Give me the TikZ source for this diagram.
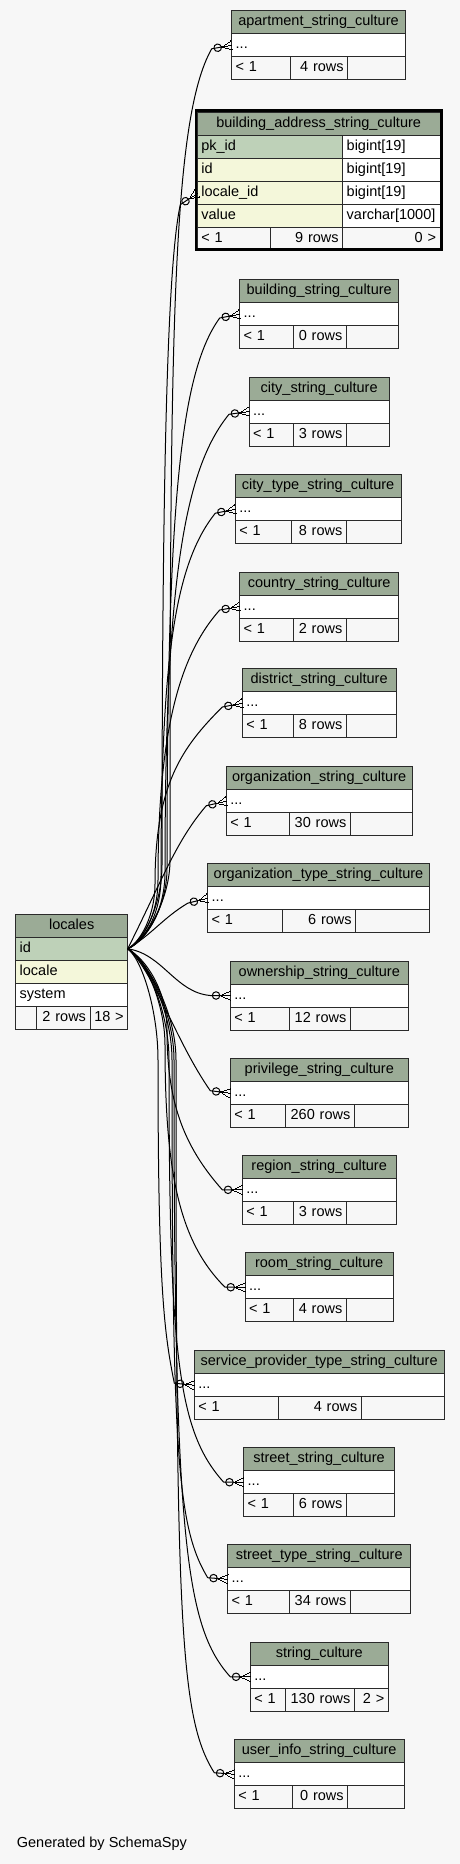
\documentclass[tikz,border=0pt]{standalone}
\usepackage{fontspec}
\setmainfont{Liberation Sans}
\usetikzlibrary{arrows.meta,calc}

\definecolor{sheet}{RGB}{247,247,247}
\definecolor{tblhead}{RGB}{155,171,150}
\definecolor{tblpk}{RGB}{190,209,184}
\definecolor{tblidx}{RGB}{244,247,218}
\definecolor{tblfoot}{RGB}{247,247,247}
\definecolor{tblline}{RGB}{42,42,42}

% crow's foot (many) end
\pgfdeclarearrow{
  name = Crow,
  parameters = {\the\pgfarrowlength,\the\pgfarrowwidth,\the\pgfarrowlinewidth},
  setup code = {
    \pgfarrowssettipend{0pt}
    \pgfarrowssetbackend{-\pgfarrowlength}
    \pgfarrowssetvisualbackend{-\pgfarrowlength}
    \pgfarrowssetlineend{-\pgfarrowlength}
    \pgfarrowsupperhullpoint{0pt}{.5\pgfarrowwidth}
    \pgfarrowsupperhullpoint{-\pgfarrowlength}{0pt}
    \pgfarrowssavethe\pgfarrowlength
    \pgfarrowssavethe\pgfarrowwidth
    \pgfarrowssavethe\pgfarrowlinewidth
  },
  drawing code = {
    \pgfsetlinewidth{\pgfarrowlinewidth}
    \pgfsetdash{}{0pt}
    \pgfpathmoveto{\pgfqpoint{0pt}{.5\pgfarrowwidth}}
    \pgfpathlineto{\pgfqpoint{-\pgfarrowlength}{0pt}}
    \pgfpathlineto{\pgfqpoint{0pt}{-.5\pgfarrowwidth}}
    \pgfpathmoveto{\pgfqpoint{-\pgfarrowlength}{0pt}}
    \pgfpathlineto{\pgfqpoint{0pt}{0pt}}
    \pgfusepathqstroke
  },
  defaults = {length=10pt, width=9pt}
}

\newcommand{\tblfont}{\fontsize{14.5pt}{17pt}\selectfont}

\tikzset{
  tbl/.style={draw=tblline, line width=1pt, inner ysep=0pt, inner xsep=4pt,
    outer sep=0pt, minimum height=23pt, text height=10.5pt, text depth=3pt,
    font=\tblfont, anchor=north west},
  tblhead/.style={tbl, fill=tblhead, align=center},
  tblrow/.style={tbl, fill=white, align=left},
  tblpk/.style={tbl, fill=tblpk, align=left},
  tblidx/.style={tbl, fill=tblidx, align=left},
  tblfoot/.style={tbl, fill=tblfoot, align=left},
  tblcount/.style={tbl, fill=tblfoot, align=right},
  rel/.style={line width=1pt, black,
    -{Circle[open, length=8.5pt, width=8.5pt] Crow[length=10pt, width=9pt]}},
}

% collapsed table: #1 name, #2 left, #3 right, #4 top, #5 title,
% #6 and #7 footer dividers, #8 rows, #9 last cell
\newcommand{\culturetable}[9]{%
  \pgfmathsetmacro\cwA{#3-#2-8}%
  \pgfmathsetmacro\cwB{#6-#2-8}%
  \pgfmathsetmacro\cwC{#7-#6-8}%
  \pgfmathsetmacro\cwD{#3-#7-8}%
  \node[tblhead, text width=\cwA pt] (#1) at (#2,#4) {#5};
  \node[tblrow, text width=\cwA pt] (#1-r) at (#1.south west) {...};
  \node[tblfoot, text width=\cwB pt] (#1-f1) at (#1-r.south west) {< 1};
  \node[tblcount, text width=\cwC pt] (#1-f2) at (#1-f1.north east) {#8};
  \node[tblcount, text width=\cwD pt] (#1-f3) at (#1-f2.north east) {#9};
}

\begin{document}
\begin{tikzpicture}[x=1pt, y=-1pt]
  % sheet
  \fill[sheet] (0,0) rectangle (460,1864);

  % locales
  \node[tblhead, text width=104pt] (loc) at (15.7,914.3) {locales};
  \node[tblpk, text width=104pt] (loc-id) at (loc.south west) {id};
  \node[tblidx, text width=104pt] (loc-locale) at (loc-id.south west) {locale};
  \node[tblrow, text width=104pt] (loc-sys) at (loc-locale.south west) {system};
  \node[tblfoot, text width=13pt] (loc-f1) at (loc-sys.south west) {};
  \node[tblcount, text width=45.3pt] (loc-f2) at (loc-f1.north east) {2 rows};
  \node[tblcount, text width=29.7pt] (loc-f3) at (loc-f2.north east) {18 >};

  % building_address_string_culture (focused table)
  \node[tblhead, text width=234.7pt] (ba) at (197.3,112.7) {building\_address\_string\_culture};
  \node[tblpk, text width=137.4pt] (ba-pk) at (ba.south west) {pk\_id};
  \node[tblrow, text width=89.3pt] (ba-pkt) at (ba-pk.north east) {bigint[19]};
  \node[tblidx, text width=137.4pt] (ba-id) at (ba-pk.south west) {id};
  \node[tblrow, text width=89.3pt] (ba-idt) at (ba-id.north east) {bigint[19]};
  \node[tblidx, text width=137.4pt] (ba-loc) at (ba-id.south west) {locale\_id};
  \node[tblrow, text width=89.3pt] (ba-loct) at (ba-loc.north east) {bigint[19]};
  \node[tblidx, text width=137.4pt] (ba-val) at (ba-loc.south west) {value};
  \node[tblrow, text width=89.3pt] (ba-valt) at (ba-val.north east) {varchar[1000]};
  \node[tblfoot, text width=65pt] (ba-f1) at (ba-val.south west) {< 1};
  \node[tblcount, text width=64.4pt] (ba-f2) at (ba-f1.north east) {9 rows};
  \node[tblcount, text width=89.3pt] (ba-f3) at (ba-f2.north east) {0 >};
  \draw[black, line width=2.6pt] (196,110.2) rectangle (441.4,249.7);

  % the other culture tables
  \culturetable{apt}{231.7}{405.3}{10.7}{apartment\_string\_culture}{290.7}{347.7}{4 rows}{}
  \culturetable{bld}{239.7}{398.7}{279.7}{building\_string\_culture}{293.3}{346.3}{0 rows}{}
  \culturetable{city}{249}{389.3}{377}{city\_string\_culture}{293}{346.3}{3 rows}{}
  \culturetable{ctype}{235.3}{401}{474.7}{city\_type\_string\_culture}{291.7}{346.3}{8 rows}{}
  \culturetable{country}{239.7}{398.7}{572}{country\_string\_culture}{293.3}{346.3}{2 rows}{}
  \culturetable{district}{242.3}{396}{668.7}{district\_string\_culture}{293}{346.3}{8 rows}{}
  \culturetable{org}{226.3}{412}{766.7}{organization\_string\_culture}{289}{350.3}{30 rows}{}
  \culturetable{orgtype}{207.7}{429.3}{863.7}{organization\_type\_string\_culture}{282.7}{355.7}{6 rows}{}
  \culturetable{own}{230.3}{408.3}{961}{ownership\_string\_culture}{289}{350.3}{12 rows}{}
  \culturetable{priv}{230.3}{408.3}{1058.7}{privilege\_string\_culture}{285}{354.3}{260 rows}{}
  \culturetable{region}{242.3}{396}{1155.3}{region\_string\_culture}{293}{346.3}{3 rows}{}
  \culturetable{room}{245}{393.3}{1252.7}{room\_string\_culture}{293.3}{346.3}{4 rows}{}
  \culturetable{sprov}{194.3}{444}{1350.7}{service\_provider\_type\_string\_culture}{278.7}{361.3}{4 rows}{}
  \culturetable{street}{243.7}{394.3}{1447.7}{street\_string\_culture}{293.3}{346.3}{6 rows}{}
  \culturetable{sttype}{227.7}{410.7}{1544.7}{street\_type\_string\_culture}{289}{350.3}{34 rows}{}
  \culturetable{sculture}{250.3}{388.3}{1642.3}{string\_culture}{285}{354.3}{130 rows}{2 >}
  \culturetable{uinfo}{234.3}{404}{1739.7}{user\_info\_string\_culture}{292}{347.7}{0 rows}{}

  % links going up
  \draw[rel] (loc-id.east) .. controls +(18,-8) and +(0,40) .. (170,860)
    .. controls +(0,-520) and +(-40,70) .. ($(apt-r.west)+(-20,3.6)$) -- (apt-r.west);
  \draw[rel] (loc-id.east) .. controls +(16,-8) and +(0,40) .. (162,865)
    .. controls +(0,-420) and +(-12,55) .. ($(ba-loc.west)+(-17,11.5)$) -- (ba-loc.west);
  \draw[rel] (loc-id.east) .. controls +(18,-8) and +(0,40) .. (167,868)
    .. controls +(0,-360) and +(-40,55) .. ($(bld-r.west)+(-20,3.8)$) -- (bld-r.west);
  \draw[rel] (loc-id.east) .. controls +(18,-8) and +(0,40) .. (165,872)
    .. controls +(0,-290) and +(-45,55) .. ($(city-r.west)+(-20,2.8)$) -- (city-r.west);
  \draw[rel] (loc-id.east) .. controls +(16,-8) and +(0,40) .. (161,876)
    .. controls +(0,-220) and +(-40,50) .. ($(ctype-r.west)+(-20,4)$) -- (ctype-r.west);
  \draw[rel] (loc-id.east) .. controls +(15,-8) and +(0,35) .. (158,880)
    .. controls +(0,-150) and +(-40,45) .. ($(country-r.west)+(-20,3.5)$) -- (country-r.west);
  \draw[rel] (loc-id.east) .. controls +(14,-8) and +(0,30) .. (155,884)
    .. controls +(0,-100) and +(-40,40) .. ($(district-r.west)+(-20,3.8)$) -- (district-r.west);
  \draw[rel] (loc-id.east) .. controls +(35,-70) and +(-30,35)
    .. ($(org-r.west)+(-20,4.5)$) -- (org-r.west);
  \draw[rel] (loc-id.east) .. controls +(25,-15) and +(-25,15)
    .. ($(orgtype-r.west)+(-20,5)$) -- (orgtype-r.west);

  % links going down
  \draw[rel] (loc-id.east) .. controls +(35,5) and +(-35,-3)
    .. ($(own-r.west)+(-20,0)$) -- (own-r.west);
  \draw[rel] (loc-id.east) .. controls +(25,20) and +(-35,-50)
    .. ($(priv-r.west)+(-20,-2.5)$) -- (priv-r.west);
  \draw[rel] (loc-id.east) .. controls +(18,10) and +(0,-40) .. (167,1030)
    .. controls +(0,70) and +(-40,-45) .. ($(region-r.west)+(-20,0)$) -- (region-r.west);
  \draw[rel] (loc-id.east) .. controls +(18,10) and +(0,-40) .. (165,1045)
    .. controls +(0,130) and +(-45,-45) .. ($(room-r.west)+(-20,0)$) -- (room-r.west);
  \draw[rel] (loc-id.east) .. controls +(14,10) and +(0,-50) .. (158,1060)
    .. controls +(0,230) and +(-10,-50) .. ($(sprov-r.west)+(-20,-2)$) -- (sprov-r.west);
  \draw[rel] (loc-id.east) .. controls +(18,10) and +(0,-50) .. (169,1060)
    .. controls +(0,300) and +(-45,-50) .. ($(street-r.west)+(-20,0)$) -- (street-r.west);
  \draw[rel] (loc-id.east) .. controls +(18,10) and +(0,-50) .. (172,1060)
    .. controls +(0,400) and +(-30,-50) .. ($(sttype-r.west)+(-20,-1.5)$) -- (sttype-r.west);
  \draw[rel] (loc-id.east) .. controls +(18,10) and +(0,-50) .. (174,1060)
    .. controls +(0,480) and +(-45,-50) .. ($(sculture-r.west)+(-20,0)$) -- (sculture-r.west);
  \draw[rel] (loc-id.east) .. controls +(18,10) and +(0,-50) .. (176,1060)
    .. controls +(0,560) and +(-35,-55) .. ($(uinfo-r.west)+(-20,-1.5)$) -- (uinfo-r.west);

  % footer
  \node[font=\tblfont, anchor=west, inner sep=0pt] (credit) at (16.7,1844) {Generated by SchemaSpy};
\end{tikzpicture}
\end{document}
